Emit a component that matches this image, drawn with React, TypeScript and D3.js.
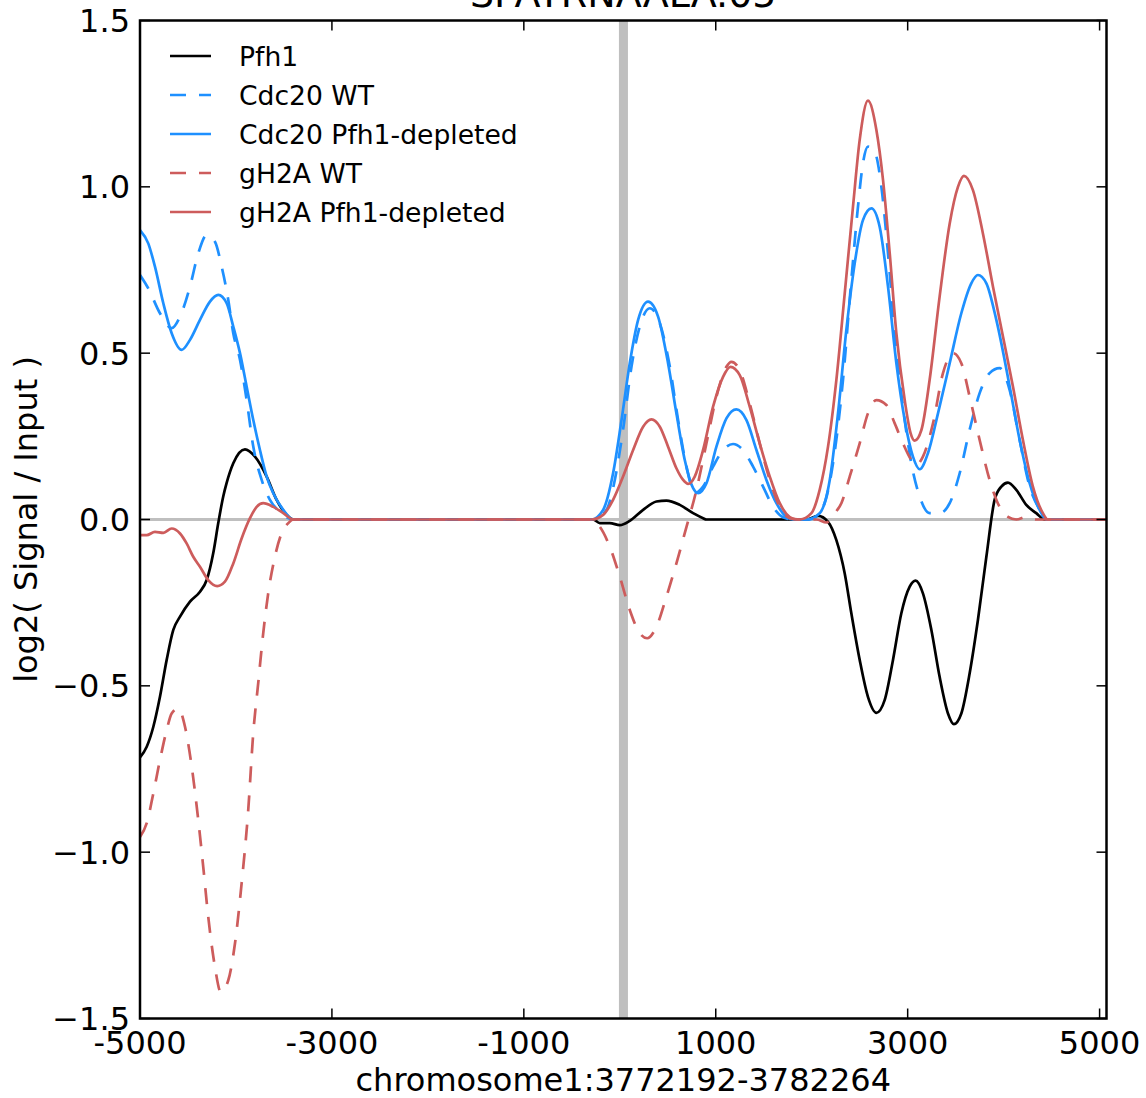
import React from 'react';
import * as d3 from 'd3';

const chartTitle = 'SPATRNAALA.05';
const xLabel = 'chromosome1:3772192-3782264';
const yLabel = 'log2( Signal / Input )';
const xTicks = [-5000, -3000, -1000, 1000, 3000, 5000];
const yTicks = [-1.5, -1, -0.5, 0, 0.5, 1, 1.5];
const xDomain = [-5000, 5072];
const yDomain = [-1.5, 1.5];
const tssPosition = 38;

const pfh1: [number, number][] = [
  [-5000, -0.715], [-4930, -0.683], [-4861, -0.623], [-4792, -0.533], [-4722, -0.422], [-4653, -0.332],
  [-4583, -0.292], [-4479, -0.247], [-4375, -0.217], [-4305, -0.182], [-4236, -0.1], [-4184, -0.01],
  [-4132, 0.07], [-4097, 0.11], [-4028, 0.169], [-3906, 0.211], [-3802, 0.189], [-3680, 0.129],
  [-3576, 0.059], [-3472, 0.014], [-3403, 0],
  [-278, 0], [-208, -0.011], [-104, -0.011], [0, -0.017], [104, -0.004], [243, 0.029], [382, 0.054],
  [486, 0.057], [625, 0.044], [764, 0.019], [868, 0.004], [903, 0],
  [1945, 0], [2066, 0.011], [2170, -0.007], [2257, -0.062], [2344, -0.162], [2413, -0.282], [2500, -0.422],
  [2586, -0.533], [2674, -0.581], [2760, -0.543], [2847, -0.422], [2934, -0.282], [3021, -0.202],
  [3083, -0.184], [3159, -0.222], [3247, -0.332], [3333, -0.473], [3420, -0.583], [3482, -0.615],
  [3559, -0.583], [3646, -0.462], [3732, -0.302], [3820, -0.112], [3906, 0.059], [3976, 0.099],
  [4045, 0.111], [4132, 0.089], [4236, 0.044], [4340, 0.019], [4427, 0], [5072, 0],
];

const cdc20WT: [number, number][] = [
  [-5000, 0.735], [-4914, 0.695], [-4792, 0.62], [-4670, 0.575], [-4583, 0.61], [-4479, 0.7],
  [-4393, 0.8], [-4305, 0.855], [-4219, 0.835], [-4149, 0.76], [-4080, 0.66], [-4028, 0.56],
  [-3958, 0.48], [-3889, 0.36], [-3820, 0.22], [-3732, 0.119], [-3646, 0.059], [-3542, 0.023], [-3403, 0],
  [-278, 0], [-139, 0.029], [-52, 0.119], [34, 0.27], [122, 0.46], [208, 0.58], [313, 0.635],
  [417, 0.59], [521, 0.46], [607, 0.3], [695, 0.159], [781, 0.079], [868, 0.099], [972, 0.159],
  [1076, 0.209], [1180, 0.227], [1284, 0.209], [1389, 0.159], [1493, 0.099], [1597, 0.038],
  [1701, 0.007], [1805, 0],
  [1979, 0], [2118, 0.038], [2222, 0.169], [2326, 0.42], [2413, 0.72], [2482, 0.94], [2534, 1.071],
  [2586, 1.121], [2656, 1.106], [2726, 1.0], [2795, 0.8], [2865, 0.56], [2951, 0.339], [3038, 0.169],
  [3125, 0.069], [3229, 0.019], [3333, 0.019], [3438, 0.049], [3542, 0.139], [3646, 0.27], [3750, 0.38],
  [3854, 0.44], [3958, 0.455], [4063, 0.389], [4167, 0.239], [4271, 0.099], [4375, 0.029], [4445, 0],
  [5072, 0],
];

const cdc20Depleted: [number, number][] = [
  [-5000, 0.87], [-4914, 0.83], [-4844, 0.76], [-4757, 0.65], [-4670, 0.56], [-4566, 0.51],
  [-4479, 0.54], [-4375, 0.6], [-4271, 0.655], [-4184, 0.675], [-4097, 0.65], [-4028, 0.58],
  [-3958, 0.5], [-3889, 0.4], [-3820, 0.3], [-3750, 0.209], [-3680, 0.129], [-3611, 0.079],
  [-3507, 0.029], [-3403, 0],
  [-295, 0], [-174, 0.029], [-70, 0.139], [18, 0.299], [104, 0.47], [191, 0.6], [295, 0.655],
  [399, 0.61], [503, 0.47], [590, 0.319], [677, 0.179], [764, 0.094], [816, 0.079], [903, 0.109],
  [1007, 0.219], [1111, 0.304], [1215, 0.331], [1320, 0.299], [1424, 0.209], [1528, 0.119],
  [1632, 0.049], [1736, 0.008], [1805, 0],
  [1945, 0], [2083, 0.019], [2188, 0.119], [2274, 0.319], [2361, 0.57], [2448, 0.77], [2534, 0.9],
  [2622, 0.935], [2708, 0.88], [2795, 0.7], [2882, 0.47], [2969, 0.299], [3055, 0.189], [3125, 0.151],
  [3211, 0.199], [3316, 0.319], [3438, 0.47], [3559, 0.62], [3663, 0.71], [3732, 0.735], [3820, 0.71],
  [3924, 0.6], [4063, 0.4], [4167, 0.239], [4271, 0.109], [4375, 0.029], [4445, 0], [5072, 0],
];

const gh2aWT: [number, number][] = [
  [-5000, -0.954], [-4930, -0.913], [-4861, -0.823], [-4792, -0.723], [-4722, -0.633], [-4670, -0.583],
  [-4601, -0.568], [-4531, -0.623], [-4461, -0.743], [-4393, -0.903], [-4341, -1.044], [-4289, -1.194],
  [-4219, -1.345], [-4159, -1.42], [-4080, -1.385], [-4010, -1.274], [-3941, -1.094], [-3872, -0.873],
  [-3820, -0.643], [-3768, -0.492], [-3716, -0.342], [-3664, -0.222], [-3594, -0.112], [-3524, -0.041],
  [-3455, -0.011], [-3403, 0],
  [-295, 0], [-208, -0.022], [-104, -0.082], [0, -0.172], [104, -0.272], [208, -0.342], [285, -0.357],
  [382, -0.322], [486, -0.232], [590, -0.132], [695, -0.022], [799, 0.089], [903, 0.229], [1007, 0.369],
  [1111, 0.459], [1163, 0.474], [1250, 0.449], [1354, 0.349], [1458, 0.229], [1563, 0.119],
  [1667, 0.038], [1771, 0.004], [1875, 0],
  [2049, 0], [2153, -0.009], [2240, 0.019], [2309, 0.049], [2396, 0.129], [2500, 0.229], [2586, 0.319],
  [2674, 0.359], [2778, 0.344], [2865, 0.289], [2951, 0.229], [3038, 0.179], [3090, 0.164], [3159, 0.189],
  [3264, 0.289], [3368, 0.44], [3472, 0.5], [3559, 0.47], [3646, 0.369], [3750, 0.239], [3854, 0.119],
  [3958, 0.038], [4045, 0.008], [4132, 0], [4236, 0.008], [4340, 0], [5072, 0],
];

const gh2aDepleted: [number, number][] = [
  [-5000, -0.047], [-4930, -0.047], [-4844, -0.037], [-4757, -0.04], [-4670, -0.027], [-4583, -0.042],
  [-4514, -0.072], [-4445, -0.112], [-4375, -0.142], [-4289, -0.182], [-4195, -0.2], [-4115, -0.187],
  [-4028, -0.132], [-3941, -0.057], [-3854, 0.004], [-3784, 0.038], [-3716, 0.049], [-3611, 0.038],
  [-3507, 0.019], [-3403, 0],
  [-295, 0], [-174, 0.014], [-70, 0.059], [34, 0.129], [139, 0.209], [243, 0.279], [330, 0.301],
  [417, 0.279], [503, 0.219], [590, 0.154], [660, 0.119], [712, 0.107], [781, 0.129], [868, 0.209],
  [972, 0.339], [1076, 0.429], [1153, 0.459], [1250, 0.434], [1354, 0.339], [1458, 0.229], [1563, 0.129],
  [1667, 0.049], [1771, 0.007], [1840, 0],
  [1875, 0], [1997, 0.019], [2083, 0.089], [2170, 0.219], [2257, 0.42], [2344, 0.68], [2430, 0.94],
  [2500, 1.141], [2586, 1.259], [2674, 1.171], [2743, 1.021], [2813, 0.8], [2882, 0.56], [2969, 0.359],
  [3031, 0.259], [3073, 0.237], [3143, 0.269], [3229, 0.42], [3333, 0.67], [3438, 0.89], [3524, 1.0],
  [3586, 1.033], [3680, 0.99], [3784, 0.86], [3889, 0.7], [3993, 0.55], [4097, 0.4], [4201, 0.239],
  [4305, 0.099], [4409, 0.019], [4461, 0], [5072, 0],
];

const seriesNames = ['Pfh1', 'Cdc20 WT', 'Cdc20 Pfh1-depleted', 'gH2A WT', 'gH2A Pfh1-depleted'];
const seriesData = [pfh1, cdc20WT, cdc20Depleted, gh2aWT, gh2aDepleted];
const seriesColors = ['#000000', '#1e90ff', '#1e90ff', '#cd5c5c', '#cd5c5c'];
const seriesDashed = [false, true, false, true, false];

const W = 1146;
const H = 1098;
const left = 140;
const right = 1106.5;
const top = 20.5;
const bottom = 1018.5;
const font = 'DejaVu Sans, Verdana, sans-serif';

export default function App() {
  const x = d3.scaleLinear().domain(xDomain).range([left, right]);
  const y = d3.scaleLinear().domain(yDomain).range([bottom, top]);
  const line = d3
    .line<[number, number]>()
    .x((d) => x(d[0]))
    .y((d) => y(d[1]))
    .curve(d3.curveMonotoneX);
  const fmtY = (v: number) => d3.format('.1f')(v).replace('-', '\u2212');
  const dash = '16,13';

  return (
    <svg
      width={W}
      height={H}
      style={{ position: 'absolute', left: 0, top: 0, background: '#fff' }}
      fontFamily={font}
    >
      <defs>
        <clipPath id="plotclip">
          <rect x={left} y={top} width={right - left} height={bottom - top} />
        </clipPath>
      </defs>
      <rect x={0} y={0} width={W} height={H} fill="#fff" />
      <g clipPath="url(#plotclip)">
        <line x1={left} x2={right} y1={y(0)} y2={y(0)} stroke="#bfbfbf" strokeWidth={3} />
        <rect x={x(tssPosition) - 4.5} y={top} width={9} height={bottom - top} fill="#bfbfbf" />
        {seriesData.map((d, i) => (
          <path
            key={i}
            d={line(d) || ''}
            fill="none"
            stroke={seriesColors[i]}
            strokeWidth={2.7}
            strokeDasharray={seriesDashed[i] ? dash : undefined}
            strokeLinejoin="round"
          />
        ))}
      </g>
      {xTicks.map((t) => (
        <g key={'xt' + t}>
          <line x1={x(t)} x2={x(t)} y1={bottom} y2={bottom - 10} stroke="#000" strokeWidth={1.5} />
          <line x1={x(t)} x2={x(t)} y1={top} y2={top + 10} stroke="#000" strokeWidth={1.5} />
          <text x={x(t)} y={1054} textAnchor="middle" fontSize={32} fill="#000">
            {String(t)}
          </text>
        </g>
      ))}
      {yTicks.map((t) => (
        <g key={'yt' + t}>
          <line x1={left} x2={left + 10} y1={y(t)} y2={y(t)} stroke="#000" strokeWidth={1.5} />
          <line x1={right} x2={right - 10} y1={y(t)} y2={y(t)} stroke="#000" strokeWidth={1.5} />
          <text x={130} y={y(t)} dy="0.36em" textAnchor="end" fontSize={32} fill="#000">
            {fmtY(t)}
          </text>
        </g>
      ))}
      <rect x={left} y={top} width={right - left} height={bottom - top} fill="none" stroke="#000" strokeWidth={2.5} />
      {seriesNames.map((n, i) => {
        const ly = 56 + i * 39;
        return (
          <g key={'lg' + i}>
            <line
              x1={170}
              x2={211}
              y1={ly}
              y2={ly}
              stroke={seriesColors[i]}
              strokeWidth={2.7}
              strokeDasharray={seriesDashed[i] ? dash : undefined}
            />
            <text x={239} y={ly} dy="0.36em" fontSize={26.6} fill="#000">
              {n}
            </text>
          </g>
        );
      })}
      <text x={(left + right) / 2} y={7} textAnchor="middle" fontSize={38} fill="#000">
        {chartTitle}
      </text>
      <text x={(left + right) / 2} y={1091} textAnchor="middle" fontSize={32} fill="#000">
        {xLabel}
      </text>
      <text
        transform={`translate(37, ${(top + bottom) / 2}) rotate(-90)`}
        textAnchor="middle"
        fontSize={32}
        fill="#000"
      >
        {yLabel}
      </text>
    </svg>
  );
}
